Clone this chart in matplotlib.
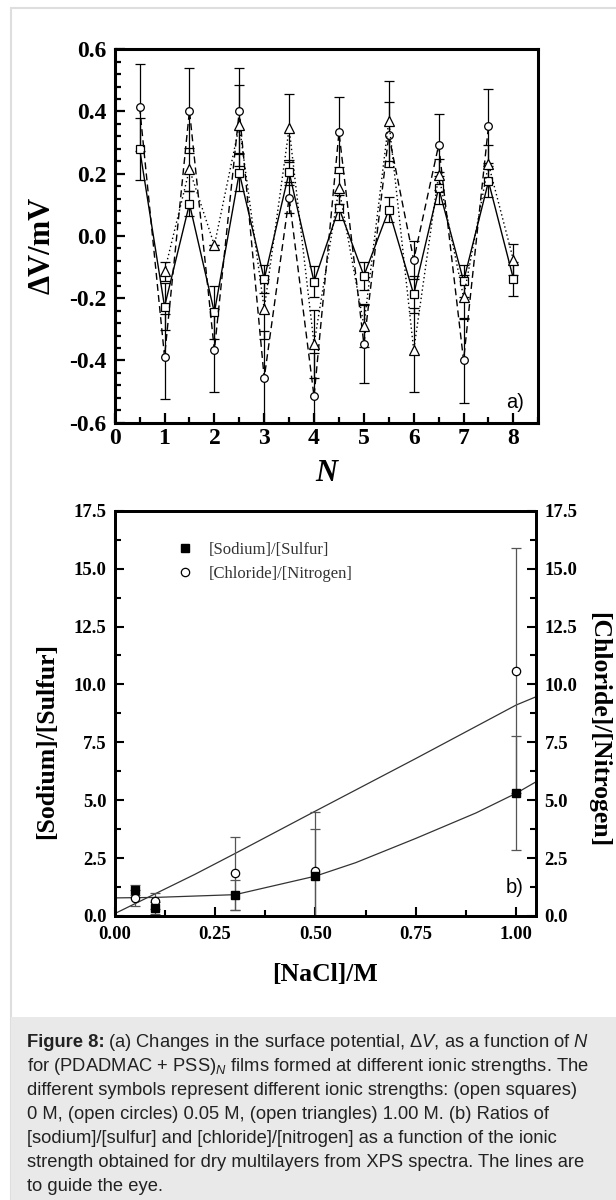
import matplotlib
matplotlib.use("Agg")
import matplotlib.pyplot as plt
import numpy as np
from matplotlib.patches import Rectangle
from matplotlib.ticker import AutoMinorLocator, FixedLocator

plt.rcParams['font.family'] = ['Liberation Serif', 'DejaVu Serif']
plt.rcParams['axes.unicode_minus'] = False
plt.rcParams['mathtext.fontset'] = 'custom'
plt.rcParams['mathtext.rm'] = 'Liberation Sans'
plt.rcParams['mathtext.it'] = 'Liberation Sans:italic'
plt.rcParams['mathtext.bf'] = 'Liberation Sans:bold'

# panel a) surface potential vs N, three ionic strengths
n_square = [0.5, 1, 1.5, 2, 2.5, 3, 3.5, 4, 4.5, 5, 5.5, 6, 6.5, 7, 7.5, 8]
dv_square = [0.28, -0.227, 0.103, -0.246, 0.203, -0.139, 0.205, -0.147,
             0.09, -0.128, 0.084, -0.188, 0.154, -0.145, 0.175, -0.138]
err_square = [0.10, 0.075, 0.04, 0.085, 0.06, 0.046, 0.04, 0.05,
              0.04, 0.045, 0.04, 0.06, 0.05, 0.05, 0.05, 0.055]

n_circle = [0.5, 1, 1.5, 2, 2.5, 3, 3.5, 4, 4.5, 5, 5.5, 6, 6.5, 7, 7.5]
dv_circle = [0.414, -0.388, 0.403, -0.368, 0.403, -0.457, 0.123, -0.516,
             0.333, -0.348, 0.325, -0.077, 0.292, -0.40, 0.353]
err_circle = [0.14, 0.137, 0.136, 0.134, 0.136, 0.15, 0.05, 0.14,
              0.112, 0.125, 0.105, 0.06, 0.10, 0.137, 0.118]

n_triangle = [1, 1.5, 2, 2.5, 3, 3.5, 4, 4.5, 5, 5.5, 6, 6.5, 7, 7.5, 8]
dv_triangle = [-0.114, 0.214, -0.03, 0.355, -0.235, 0.346, -0.348, 0.153,
               -0.288, 0.37, -0.368, 0.196, -0.197, 0.231, -0.077]
err_triangle = [0.03, 0.07, 0.0, 0.13, 0.095, 0.11, 0.11, 0.05,
                0.07, 0.128, 0.135, 0.05, 0.07, 0.06, 0.05]

# panel b) XPS ratios vs [NaCl]
nacl = [0.05, 0.1, 0.3, 0.5, 1.0]
na_s = [1.12, 0.35, 0.91, 1.72, 5.3]
na_s_err = [0.2, 0.25, 0.65, 2.05, 2.45]
cl_n = [0.76, 0.66, 1.84, 1.96, 10.59]
cl_n_err = [0.35, 0.35, 1.58, 2.55, 5.3]

# guide-to-the-eye curves
guide_na_x = [0.0, 0.1, 0.3, 0.5, 0.6, 0.75, 0.9, 1.0, 1.05]
guide_na_y = [0.78, 0.8, 0.92, 1.72, 2.3, 3.35, 4.45, 5.3, 5.8]
guide_cl_x = [0.0, 0.1, 0.2, 0.3, 0.5, 0.75, 1.0, 1.05]
guide_cl_y = [0.1, 0.95, 1.8, 2.7, 4.53, 6.8, 9.11, 9.47]

caption_head = "Figure 8:"
caption_lines = [
    r"(a) Changes in the surface potential, Δ$\mathit{V}$, as a function of $\mathit{N}$",
    r"for (PDADMAC + PSS)$_{\mathit{N}}$ films formed at different ionic strengths. The",
    "different symbols represent different ionic strengths: (open squares)",
    "0 M, (open circles) 0.05 M, (open triangles) 1.00 M. (b) Ratios of",
    "[sodium]/[sulfur] and [chloride]/[nitrogen] as a function of the ionic",
    "strength obtained for dry multilayers from XPS spectra. The lines are",
    "to guide the eye.",
]


def bold_ticks(ax, size):
    for lab in ax.get_xticklabels() + ax.get_yticklabels():
        lab.set_fontweight('bold')
        lab.set_fontsize(size)


fig = plt.figure(figsize=(6.16, 12), dpi=100)

# page frame and caption box
fig.patches.append(Rectangle((11 / 616, 0), 1.0, 1 - 8 / 1200, transform=fig.transFigure,
                             fill=False, edgecolor='#dedede', lw=1.5, zorder=0))
fig.patches.append(Rectangle((11 / 616, 0), 1.0, 1 - 1017 / 1200, transform=fig.transFigure,
                             facecolor='#e9e9e9', edgecolor='none', zorder=0))

# ---- panel a ----
ax1 = fig.add_axes([0.1862, 0.6478, 0.6877, 0.3112])
ebkw = dict(ecolor='k', elinewidth=0.9, capsize=3.5, capthick=0.9, zorder=2)
ax1.errorbar(n_square, dv_square, yerr=err_square, fmt='none', **ebkw)
ax1.errorbar(n_circle, dv_circle, yerr=err_circle, fmt='none', **ebkw)
ax1.errorbar(n_triangle, dv_triangle, yerr=err_triangle, fmt='none', **ebkw)
ax1.plot(n_square, dv_square, '-', color='k', lw=1.0, marker='s', ms=5.5,
         mfc='white', mec='k', mew=0.9, zorder=3)
ax1.plot(n_circle, dv_circle, color='k', lw=1.0, ls=(0, (5, 3)), marker='o', ms=5.5,
         mfc='white', mec='k', mew=0.9, zorder=3)
ax1.plot(n_triangle, dv_triangle, color='k', lw=1.0, ls=(0, (1, 2)), marker='^', ms=6.5,
         mfc='white', mec='k', mew=0.9, zorder=3)

ax1.set_xlim(0, 8.5)
ax1.set_ylim(-0.6, 0.6)
ax1.xaxis.set_major_locator(FixedLocator(np.arange(0, 9)))
ax1.set_xticklabels([str(i) for i in range(9)])
yt = np.round(np.arange(-0.6, 0.61, 0.2), 1)
ax1.set_yticks(yt)
ax1.set_yticklabels(['%.1f' % (v + 0.0) for v in yt])
ax1.xaxis.set_minor_locator(AutoMinorLocator(2))
ax1.yaxis.set_minor_locator(AutoMinorLocator(5))
ax1.tick_params(which='both', direction='in', top=False, right=False, width=1.6)
ax1.tick_params(which='major', length=7, pad=6)
ax1.tick_params(which='minor', length=4.5)
ax1.tick_params(axis='x', which='major', pad=4)
for sp in ax1.spines.values():
    sp.set_linewidth(2.2)
bold_ticks(ax1, 17)

ax1.set_ylabel("ΔV/mV", fontsize=22, fontweight='bold')
ax1.yaxis.set_label_coords(-0.1716, 0.476)
ax1.yaxis.label.set_va('center')
ax1.set_xlabel("N", fontsize=22, fontweight='bold', fontstyle='italic')
ax1.xaxis.set_label_coords(0.5, -0.1355)
ax1.xaxis.label.set_va('center')
ax1.text(0.945, 0.053, "a)", transform=ax1.transAxes, fontsize=14.5,
         family='Liberation Sans', ha='center', va='center')

# ---- panel b ----
ax2 = fig.add_axes([0.1862, 0.2367, 0.6844, 0.3377])
ax2.plot(guide_cl_x, guide_cl_y, color='#333333', lw=0.9, zorder=1)
ax2.plot(guide_na_x, guide_na_y, color='#333333', lw=0.9, zorder=1)
ax2.errorbar(nacl, cl_n, yerr=cl_n_err, fmt='none', ecolor='#555555', elinewidth=0.9,
             capsize=3.5, capthick=0.9, zorder=2)
ax2.errorbar(nacl, na_s, yerr=na_s_err, fmt='none', ecolor='#555555', elinewidth=0.9,
             capsize=3.5, capthick=0.9, zorder=2)
ax2.plot(nacl, na_s, ls='none', marker='s', ms=6, color='k', zorder=4,
         label='[Sodium]/[Sulfur]')
ax2.plot(nacl, cl_n, ls='none', marker='o', ms=6, mfc='white', mec='k', mew=0.9,
         zorder=3, label='[Chloride]/[Nitrogen]')

ax2.set_xlim(0, 1.05)
ax2.set_ylim(0, 17.5)
xt = [0.0, 0.25, 0.5, 0.75, 1.0]
ax2.set_xticks(xt)
ax2.set_xticklabels(['%.2f' % v for v in xt])
yt2 = np.arange(0, 17.6, 2.5)
ax2.set_yticks(yt2)
ax2.set_yticklabels(['%.1f' % v for v in yt2])
ax2.xaxis.set_minor_locator(AutoMinorLocator(2))
ax2.yaxis.set_minor_locator(AutoMinorLocator(2))
ax2.tick_params(which='both', direction='in', top=False, right=True, width=1.5)
ax2.tick_params(which='major', length=6.5, pad=6)
ax2.tick_params(which='minor', length=4)
ax2.tick_params(axis='x', which='major', pad=7.5)
for sp in ax2.spines.values():
    sp.set_linewidth(2.0)
bold_ticks(ax2, 13.5)

ax3 = ax2.twinx()
ax3.set_ylim(0, 17.5)
ax3.set_yticks(yt2)
ax3.set_yticklabels(['%.1f' % v for v in yt2])
ax3.yaxis.set_minor_locator(AutoMinorLocator(2))
ax3.tick_params(which='both', direction='in', width=1.5)
ax3.tick_params(which='major', length=6.5, pad=6)
ax3.tick_params(which='minor', length=4)
for sp in ax3.spines.values():
    sp.set_linewidth(2.0)
bold_ticks(ax3, 13.5)

ax2.set_xlabel("[NaCl]/M", fontsize=18.5, fontweight='bold')
ax2.xaxis.set_label_coords(0.5, -0.1456)
ax2.xaxis.label.set_va('center')
ax2.set_ylabel("[Sodium]/[Sulfur]", fontsize=18.5, fontweight='bold')
ax2.yaxis.set_label_coords(-0.1606, 0.432)
ax2.yaxis.label.set_va('center')
ax3.set_ylabel("[Chloride]/[Nitrogen]", fontsize=18.5, fontweight='bold', rotation=270)
ax3.yaxis.set_label_coords(1.1487, 0.459)
ax3.yaxis.label.set_va('center')

ax2.legend(loc='upper left', bbox_to_anchor=(0.148, 0.924), frameon=False,
           borderpad=0, borderaxespad=0, handlelength=1.0, handletextpad=0.9,
           labelspacing=0.5, prop={'family': 'Liberation Serif', 'size': 12},
           labelcolor='#333333')
ax2.text(0.9495, 0.069, "b)", transform=ax2.transAxes, fontsize=14.5,
         family='Liberation Sans', ha='center', va='center')

# ---- caption ----
cap_kw = dict(fontsize=13.2, family='Liberation Sans', color='#222222')
x0 = 26.7 / 616
head = fig.text(x0, 1 - 1046.8 / 1200, caption_head, fontweight='bold',
                va='baseline', ha='left', **cap_kw)
# rest of the first line continues right after the bold head
renderer = fig.canvas.get_renderer()
head_box = head.get_window_extent(renderer=renderer)
fig.text((head_box.x1 + 4) / 616, 1 - 1046.8 / 1200, caption_lines[0],
         va='baseline', ha='left', **cap_kw)
for i, line in enumerate(caption_lines[1:], start=1):
    fig.text(x0, 1 - (1046.8 + 24 * i) / 1200, line,
             va='baseline', ha='left', **cap_kw)

fig.savefig("out.png", dpi=100)
